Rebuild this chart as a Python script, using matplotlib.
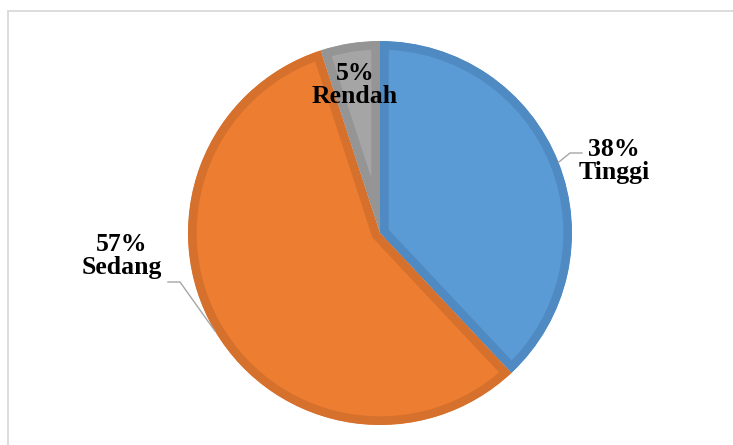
import numpy as np
import matplotlib
matplotlib.use("Agg")
import matplotlib.pyplot as plt
from matplotlib.patches import Rectangle

categories = ["Tinggi", "Sedang", "Rendah"]
values = [38, 57, 5]
fill_colors = ["#5B9BD5", "#ED7D31", "#A5A5A5"]
edge_colors = ["#4F8AC3", "#D6712D", "#959595"]

W, H = 733, 445
fig = plt.figure(figsize=(W / 100, H / 100), dpi=100)
ax = fig.add_axes([0, 0, 1, 1])

cx, cy, r = 380, H - 233, 192
wedges, _ = ax.pie(values, startangle=90, counterclock=False,
                   center=(cx, cy), radius=r, colors=fill_colors,
                   frame=True)
ax.set_xlim(0, W)
ax.set_ylim(0, H)
ax.set_aspect("equal")
ax.axis("off")

# outer frame (only top and left visible)
ax.add_patch(Rectangle((8, -20), W + 20, H - 11 + 20, fill=False,
                       edgecolor="#D9D9D9", linewidth=1.3, clip_on=False))

for w, ec in zip(wedges, edge_colors):
    w.set_edgecolor(ec)
    w.set_linewidth(12.5)
    w.set_joinstyle("miter")
    w.set_clip_on(True)
    w.set_clip_path(w)

font = dict(family="Liberation Serif", fontweight="bold", fontsize=18.5,
            color="black", ha="center", va="center", linespacing=1.05)

label_pos = {"Tinggi": (614, H - 161), "Sedang": (122, H - 256),
             "Rendah": (355, H - 85)}
leader_end = {"Tinggi": [(570, H - 153), (582, H - 153)],
              "Sedang": [(180, H - 282), (168, H - 282)]}

for w, cat, v in zip(wedges, categories, values):
    tx, ty = label_pos[cat]
    ax.text(tx, ty, f"{v}%\n{cat}", **font)
    if cat in leader_end:
        ang = np.deg2rad((w.theta1 + w.theta2) / 2)
        px, py = cx + r * np.cos(ang), cy + r * np.sin(ang)
        pts = [(px, py)] + leader_end[cat]
        ax.plot([p[0] for p in pts], [p[1] for p in pts],
                color="#A6A6A6", linewidth=1.0)

fig.savefig("out.png", dpi=100)
